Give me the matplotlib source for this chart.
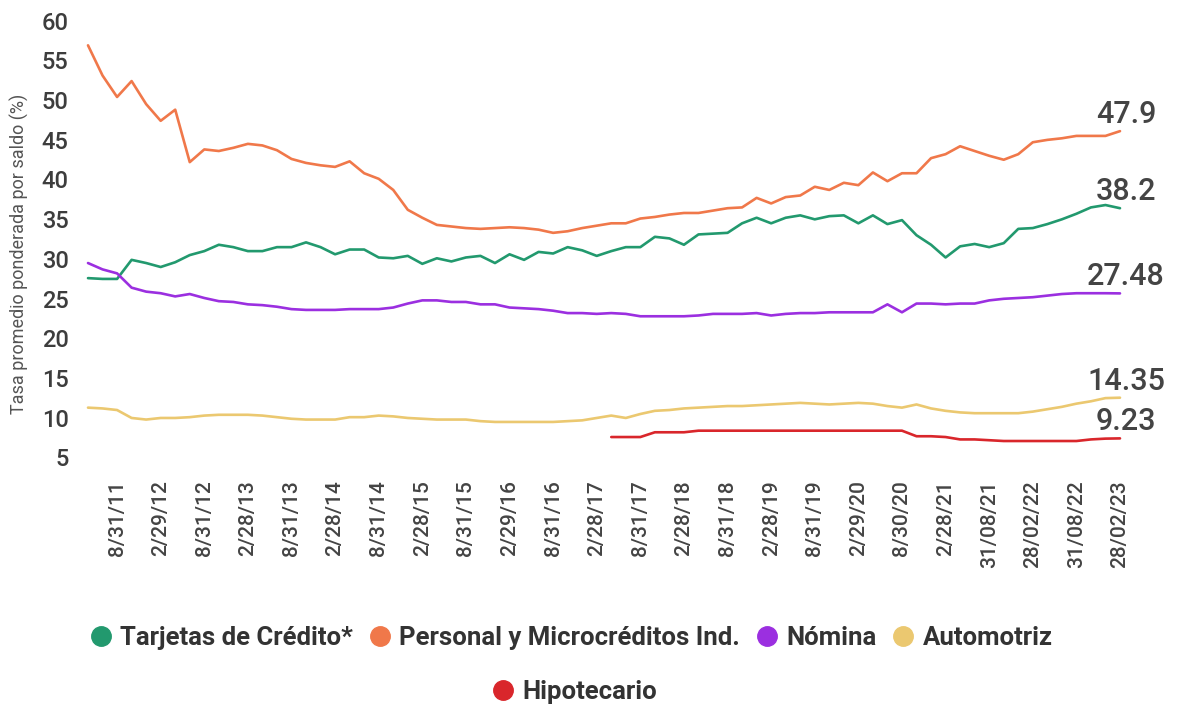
import numpy as np
import matplotlib
matplotlib.use('Agg')
import matplotlib.pyplot as plt
from matplotlib.lines import Line2D
from matplotlib.transforms import ScaledTranslation

plt.rcParams['font.family'] = ['Roboto', 'DejaVu Sans']

# bimonthly readings, Apr 2011 .. Feb 2023
tarjetas = [29.4, 29.3, 29.3, 31.7, 31.3, 30.8, 31.4, 32.3, 32.8, 33.6, 33.3, 32.8,
            32.8, 33.3, 33.3, 33.9, 33.3, 32.4, 33.0, 33.0, 32.0, 31.9, 32.2, 31.2,
            31.9, 31.5, 32.0, 32.2, 31.3, 32.4, 31.7, 32.7, 32.5, 33.3, 32.9, 32.2,
            32.8, 33.3, 33.3, 34.6, 34.4, 33.6, 34.9, 35.0, 35.1, 36.3, 37.0, 36.3,
            37.0, 37.3, 36.8, 37.2, 37.3, 36.3, 37.3, 36.2, 36.7, 34.8, 33.6, 32.0,
            33.4, 33.7, 33.3, 33.8, 35.6, 35.7, 36.2, 36.8, 37.5, 38.3, 38.6, 38.2]
personal = [58.7, 54.9, 52.2, 54.2, 51.3, 49.2, 50.6, 44.0, 45.6, 45.4, 45.8, 46.3,
            46.1, 45.5, 44.4, 43.9, 43.6, 43.4, 44.1, 42.6, 41.9, 40.5, 38.0, 37.0,
            36.1, 35.9, 35.7, 35.6, 35.7, 35.8, 35.7, 35.5, 35.1, 35.3, 35.7, 36.0,
            36.3, 36.3, 36.9, 37.1, 37.4, 37.6, 37.6, 37.9, 38.2, 38.3, 39.5, 38.8,
            39.6, 39.8, 40.9, 40.5, 41.4, 41.1, 42.7, 41.6, 42.6, 42.6, 44.5, 45.0,
            46.0, 45.4, 44.8, 44.3, 45.0, 46.5, 46.8, 47.0, 47.3, 47.3, 47.3, 47.9]
nomina = [31.3, 30.5, 30.0, 28.2, 27.7, 27.5, 27.1, 27.4, 26.9, 26.5, 26.4, 26.1,
          26.0, 25.8, 25.5, 25.4, 25.4, 25.4, 25.5, 25.5, 25.5, 25.7, 26.2, 26.6,
          26.6, 26.4, 26.4, 26.1, 26.1, 25.7, 25.6, 25.5, 25.3, 25.0, 25.0, 24.9,
          25.0, 24.9, 24.6, 24.6, 24.6, 24.6, 24.7, 24.9, 24.9, 24.9, 25.0, 24.7,
          24.9, 25.0, 25.0, 25.1, 25.1, 25.1, 25.1, 26.1, 25.1, 26.2, 26.2, 26.1,
          26.2, 26.2, 26.6, 26.8, 26.9, 27.0, 27.2, 27.4, 27.5, 27.5, 27.5, 27.48]
automotriz = [13.1, 13.0, 12.8, 11.8, 11.6, 11.8, 11.8, 11.9, 12.1, 12.2, 12.2, 12.2,
              12.1, 11.9, 11.7, 11.6, 11.6, 11.6, 11.9, 11.9, 12.1, 12.0, 11.8, 11.7,
              11.6, 11.6, 11.6, 11.4, 11.3, 11.3, 11.3, 11.3, 11.3, 11.4, 11.5, 11.8,
              12.1, 11.8, 12.3, 12.7, 12.8, 13.0, 13.1, 13.2, 13.3, 13.3, 13.4, 13.5,
              13.6, 13.7, 13.6, 13.5, 13.6, 13.7, 13.6, 13.3, 13.1, 13.5, 13.0, 12.7,
              12.5, 12.4, 12.4, 12.4, 12.4, 12.6, 12.9, 13.2, 13.6, 13.9, 14.3, 14.35]
# starts Apr 2017
hipotecario = [9.4, 9.4, 9.4, 10.0, 10.0, 10.0, 10.2, 10.2, 10.2, 10.2, 10.2, 10.2,
               10.2, 10.2, 10.2, 10.2, 10.2, 10.2, 10.2, 10.2, 10.2, 9.5, 9.5, 9.4,
               9.1, 9.1, 9.0, 8.9, 8.9, 8.9, 8.9, 8.9, 8.9, 9.1, 9.2, 9.23]

tick_labels = ['8/31/11', '2/29/12', '8/31/12', '2/28/13', '8/31/13', '2/28/14',
               '8/31/14', '2/28/15', '8/31/15', '2/29/16', '8/31/16', '2/28/17',
               '8/31/17', '2/28/18', '8/31/18', '2/28/19', '8/31/19', '2/29/20',
               '8/30/20', '2/28/21', '31/08/21', '28/02/22', '31/08/22', '28/02/23']
end_labels = ['47.9', '38.2', '27.48', '14.35', '9.23']

months = np.arange(len(personal)) * 2
months_hip = months[-len(hipotecario):]
tick_pos = np.arange(4, 143, 6)

series = [
    ('Tarjetas de Crédito*', months, tarjetas, '#22996e'),
    ('Personal y Microcréditos Ind.', months, personal, '#f0784a'),
    ('Nómina', months, nomina, '#9b2fe0'),
    ('Automotriz', months, automotriz, '#ebc870'),
    ('Hipotecario', months_hip, hipotecario, '#d9262b'),
]

fig = plt.figure(figsize=(11.78, 7.08), dpi=100)
ax = fig.add_axes([88 / 1178, 1 - 472 / 708, 1032 / 1178, 437 / 708])

for name, x, y, c in series:
    ax.plot(x, y, color=c, lw=1.9, clip_on=False, solid_capstyle='round')

ax.set_xlim(0, 142)
ax.set_ylim(5, 60)

for s in ax.spines.values():
    s.set_visible(False)

ax.set_yticks(np.arange(5, 61, 5))
ax.tick_params(axis='y', length=0, pad=14, labelsize=17, labelcolor='#3d3d3d')
for lab in ax.get_yticklabels():
    lab.set_verticalalignment('baseline')
    lab.set_fontweight('medium')
    lab.set_transform(lab.get_transform() + ScaledTranslation(0, 0.055, fig.dpi_scale_trans))

ax.set_xticks(tick_pos)
ax.set_xticklabels(tick_labels, rotation=90, fontweight='medium')
ax.tick_params(axis='x', length=0, pad=6, labelsize=15, labelcolor='#444444')

ax.set_ylabel('Tasa promedio ponderada por saldo (%)', fontsize=13, color='#555555', labelpad=10)
ax.yaxis.set_label_coords(-0.057, 0.5)

# value labels at the end of each line
order = [personal, tarjetas, nomina, automotriz, hipotecario]
for vals, txt in zip(order, end_labels):
    t = ax.text(142, vals[-1], txt, ha='center', va='baseline', fontsize=22,
                fontweight='medium', color='#444444')
    t.set_transform(ax.transData + ScaledTranslation(0.06, 0.08, fig.dpi_scale_trans))

handles = [Line2D([], [], ls='none', marker='o', markersize=14, color=c, label=n)
           for n, _, _, c in series]
leg1 = fig.legend(handles=handles[:4], loc='center', bbox_to_anchor=(0.484, 1 - 638 / 708),
                  ncol=4, frameon=False, handletextpad=0.25, columnspacing=0.55,
                  handlelength=1.0, prop={'size': 18.5, 'weight': 'bold'})
leg2 = fig.legend(handles=handles[4:], loc='center', bbox_to_anchor=(0.487, 1 - 692 / 708),
                  ncol=1, frameon=False, handletextpad=0.25, handlelength=1.0,
                  prop={'size': 18.5, 'weight': 'bold'})
for leg in (leg1, leg2):
    for t in leg.get_texts():
        t.set_color('#333333')

fig.savefig('out.png', dpi=100)
